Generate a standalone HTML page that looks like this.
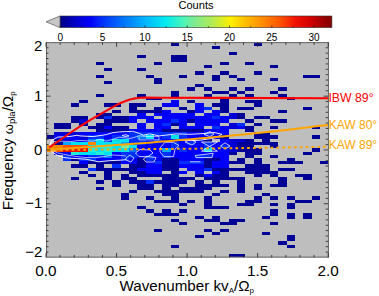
<!DOCTYPE html><html><head><meta charset="utf-8"><style>html,body{margin:0;padding:0;background:#fff;width:379px;height:296px;overflow:hidden}svg{display:block}text{font-family:"Liberation Sans",sans-serif}</style></head><body>
<svg width="379" height="296" viewBox="0 0 379 296">
<defs><linearGradient id="cb" x1="0" x2="1" y1="0" y2="0"><stop offset="0.0000" stop-color="#000082"/><stop offset="0.0547" stop-color="#0000c8"/><stop offset="0.1094" stop-color="#0000fa"/><stop offset="0.1469" stop-color="#0028ff"/><stop offset="0.2031" stop-color="#005aff"/><stop offset="0.2500" stop-color="#0082ff"/><stop offset="0.3125" stop-color="#00b4ff"/><stop offset="0.3875" stop-color="#00ebf0"/><stop offset="0.4594" stop-color="#50f5b4"/><stop offset="0.4875" stop-color="#78eb96"/><stop offset="0.5531" stop-color="#aaeb5a"/><stop offset="0.6281" stop-color="#fff000"/><stop offset="0.6813" stop-color="#ffbe00"/><stop offset="0.7438" stop-color="#ff8c00"/><stop offset="0.8125" stop-color="#ff5000"/><stop offset="0.8656" stop-color="#f01400"/><stop offset="0.9219" stop-color="#d20000"/><stop offset="0.9750" stop-color="#960000"/><stop offset="1.0000" stop-color="#820000"/></linearGradient><clipPath id="pc"><rect x="46.00" y="42.40" width="282.20" height="215.07"/></clipPath></defs>
<rect x="60.0" y="16.0" width="271.9" height="11.6" fill="url(#cb)" stroke="#333" stroke-width="0.6"/>
<path d="M60.0 16.0 L46 21.8 L60.0 27.6 Z" fill="#c8c8c8" stroke="#555" stroke-width="0.7"/>
<text x="196" y="9.3" font-size="11.1" text-anchor="middle" fill="#000">Counts</text>
<text x="60.3" y="40.8" font-size="10" text-anchor="middle" fill="#000">0</text>
<line x1="60.3" x2="60.3" y1="25.6" y2="27.6" stroke="#222" stroke-width="0.8"/>
<text x="102.6" y="40.8" font-size="10" text-anchor="middle" fill="#000">5</text>
<line x1="102.6" x2="102.6" y1="25.6" y2="27.6" stroke="#222" stroke-width="0.8"/>
<text x="144.9" y="40.8" font-size="10" text-anchor="middle" fill="#000">10</text>
<line x1="144.9" x2="144.9" y1="25.6" y2="27.6" stroke="#222" stroke-width="0.8"/>
<text x="187.2" y="40.8" font-size="10" text-anchor="middle" fill="#000">15</text>
<line x1="187.2" x2="187.2" y1="25.6" y2="27.6" stroke="#222" stroke-width="0.8"/>
<text x="229.5" y="40.8" font-size="10" text-anchor="middle" fill="#000">20</text>
<line x1="229.5" x2="229.5" y1="25.6" y2="27.6" stroke="#222" stroke-width="0.8"/>
<text x="271.8" y="40.8" font-size="10" text-anchor="middle" fill="#000">25</text>
<line x1="271.8" x2="271.8" y1="25.6" y2="27.6" stroke="#222" stroke-width="0.8"/>
<text x="314.1" y="40.8" font-size="10" text-anchor="middle" fill="#000">30</text>
<line x1="314.1" x2="314.1" y1="25.6" y2="27.6" stroke="#222" stroke-width="0.8"/>
<line x1="81.5" x2="81.5" y1="26.2" y2="27.6" stroke="#222" stroke-width="0.7"/>
<line x1="123.8" x2="123.8" y1="26.2" y2="27.6" stroke="#222" stroke-width="0.7"/>
<line x1="166.1" x2="166.1" y1="26.2" y2="27.6" stroke="#222" stroke-width="0.7"/>
<line x1="208.4" x2="208.4" y1="26.2" y2="27.6" stroke="#222" stroke-width="0.7"/>
<line x1="250.7" x2="250.7" y1="26.2" y2="27.6" stroke="#222" stroke-width="0.7"/>
<line x1="293.0" x2="293.0" y1="26.2" y2="27.6" stroke="#222" stroke-width="0.7"/>
<rect x="46.00" y="42.40" width="282.20" height="215.07" fill="#bebebe"/>
<g clip-path="url(#pc)" shape-rendering="crispEdges">
<rect x="170.50" y="42.40" width="8.30" height="3.21" fill="#000096"/>
<rect x="253.50" y="42.40" width="8.30" height="3.21" fill="#000096"/>
<rect x="212.00" y="45.61" width="8.30" height="3.21" fill="#000096"/>
<rect x="228.60" y="52.03" width="8.30" height="3.21" fill="#000096"/>
<rect x="137.30" y="55.24" width="8.30" height="3.21" fill="#000096"/>
<rect x="170.50" y="55.24" width="8.30" height="3.21" fill="#000096"/>
<rect x="178.80" y="55.24" width="8.30" height="3.21" fill="#000096"/>
<rect x="170.50" y="58.45" width="8.30" height="3.21" fill="#000096"/>
<rect x="178.80" y="58.45" width="8.30" height="3.21" fill="#000096"/>
<rect x="95.80" y="61.66" width="8.30" height="3.21" fill="#000096"/>
<rect x="153.90" y="61.66" width="8.30" height="3.21" fill="#000096"/>
<rect x="220.30" y="61.66" width="8.30" height="3.21" fill="#000096"/>
<rect x="245.20" y="61.66" width="8.30" height="3.21" fill="#000096"/>
<rect x="203.70" y="64.87" width="8.30" height="3.21" fill="#000096"/>
<rect x="270.10" y="64.87" width="8.30" height="3.21" fill="#000096"/>
<rect x="104.10" y="68.08" width="8.30" height="3.21" fill="#000096"/>
<rect x="137.30" y="68.08" width="8.30" height="3.21" fill="#000096"/>
<rect x="195.40" y="71.29" width="8.30" height="3.21" fill="#000096"/>
<rect x="220.30" y="71.29" width="8.30" height="3.21" fill="#000096"/>
<rect x="253.50" y="71.29" width="8.30" height="3.21" fill="#000096"/>
<rect x="95.80" y="74.50" width="8.30" height="3.21" fill="#000096"/>
<rect x="145.60" y="74.50" width="8.30" height="3.21" fill="#000096"/>
<rect x="178.80" y="74.50" width="8.30" height="3.21" fill="#000096"/>
<rect x="212.00" y="74.50" width="8.30" height="3.21" fill="#000096"/>
<rect x="228.60" y="74.50" width="8.30" height="3.21" fill="#000096"/>
<rect x="303.30" y="74.50" width="8.30" height="3.21" fill="#000096"/>
<rect x="311.60" y="74.50" width="8.30" height="3.21" fill="#000096"/>
<rect x="153.90" y="77.71" width="8.30" height="3.21" fill="#000096"/>
<rect x="212.00" y="77.71" width="8.30" height="3.21" fill="#000096"/>
<rect x="236.90" y="77.71" width="8.30" height="3.21" fill="#000096"/>
<rect x="270.10" y="77.71" width="8.30" height="3.21" fill="#000096"/>
<rect x="104.10" y="80.92" width="8.30" height="3.21" fill="#000096"/>
<rect x="153.90" y="80.92" width="8.30" height="3.21" fill="#000096"/>
<rect x="195.40" y="84.13" width="8.30" height="3.21" fill="#000096"/>
<rect x="187.10" y="87.34" width="8.30" height="3.21" fill="#000096"/>
<rect x="203.70" y="87.34" width="8.30" height="3.21" fill="#000096"/>
<rect x="228.60" y="87.34" width="8.30" height="3.21" fill="#000096"/>
<rect x="245.20" y="87.34" width="8.30" height="3.21" fill="#000096"/>
<rect x="278.40" y="87.34" width="8.30" height="3.21" fill="#000096"/>
<rect x="170.50" y="90.55" width="8.30" height="3.21" fill="#000096"/>
<rect x="212.00" y="90.55" width="8.30" height="3.21" fill="#000096"/>
<rect x="220.30" y="90.55" width="8.30" height="3.21" fill="#000096"/>
<rect x="236.90" y="90.55" width="8.30" height="3.21" fill="#000096"/>
<rect x="270.10" y="90.55" width="8.30" height="3.21" fill="#000096"/>
<rect x="95.80" y="93.76" width="8.30" height="3.21" fill="#000096"/>
<rect x="137.30" y="93.76" width="8.30" height="3.21" fill="#000096"/>
<rect x="170.50" y="93.76" width="8.30" height="3.21" fill="#000096"/>
<rect x="203.70" y="93.76" width="8.30" height="3.21" fill="#000096"/>
<rect x="228.60" y="93.76" width="8.30" height="3.21" fill="#000096"/>
<rect x="245.20" y="93.76" width="8.30" height="3.21" fill="#000096"/>
<rect x="278.40" y="93.76" width="8.30" height="3.21" fill="#000096"/>
<rect x="145.60" y="96.97" width="8.30" height="3.21" fill="#000096"/>
<rect x="153.90" y="96.97" width="8.30" height="3.21" fill="#000096"/>
<rect x="220.30" y="96.97" width="8.30" height="3.21" fill="#000096"/>
<rect x="286.70" y="96.97" width="8.30" height="3.21" fill="#000096"/>
<rect x="79.20" y="100.18" width="8.30" height="3.21" fill="#000096"/>
<rect x="170.50" y="100.18" width="8.30" height="3.21" fill="#0000fa"/>
<rect x="187.10" y="100.18" width="8.30" height="3.21" fill="#000096"/>
<rect x="220.30" y="100.18" width="8.30" height="3.21" fill="#000096"/>
<rect x="245.20" y="100.18" width="8.30" height="3.21" fill="#000096"/>
<rect x="253.50" y="100.18" width="8.30" height="3.21" fill="#000096"/>
<rect x="70.90" y="103.39" width="8.30" height="3.21" fill="#000096"/>
<rect x="104.10" y="103.39" width="8.30" height="3.21" fill="#000096"/>
<rect x="112.40" y="103.39" width="8.30" height="3.21" fill="#000096"/>
<rect x="129.00" y="103.39" width="8.30" height="3.21" fill="#000096"/>
<rect x="137.30" y="103.39" width="8.30" height="3.21" fill="#000096"/>
<rect x="162.20" y="103.39" width="8.30" height="3.21" fill="#0000fa"/>
<rect x="170.50" y="103.39" width="8.30" height="3.21" fill="#0000fa"/>
<rect x="195.40" y="103.39" width="8.30" height="3.21" fill="#0000fa"/>
<rect x="212.00" y="103.39" width="8.30" height="3.21" fill="#000096"/>
<rect x="220.30" y="103.39" width="8.30" height="3.21" fill="#000096"/>
<rect x="253.50" y="103.39" width="8.30" height="3.21" fill="#000096"/>
<rect x="129.00" y="106.60" width="8.30" height="3.21" fill="#000096"/>
<rect x="153.90" y="106.60" width="8.30" height="3.21" fill="#000096"/>
<rect x="178.80" y="106.60" width="8.30" height="3.21" fill="#000096"/>
<rect x="195.40" y="106.60" width="8.30" height="3.21" fill="#0000fa"/>
<rect x="203.70" y="106.60" width="8.30" height="3.21" fill="#0030ff"/>
<rect x="220.30" y="106.60" width="8.30" height="3.21" fill="#000096"/>
<rect x="236.90" y="106.60" width="8.30" height="3.21" fill="#000096"/>
<rect x="245.20" y="106.60" width="8.30" height="3.21" fill="#000096"/>
<rect x="303.30" y="106.60" width="8.30" height="3.21" fill="#000096"/>
<rect x="112.40" y="109.81" width="8.30" height="3.21" fill="#000096"/>
<rect x="129.00" y="109.81" width="8.30" height="3.21" fill="#000096"/>
<rect x="137.30" y="109.81" width="8.30" height="3.21" fill="#000096"/>
<rect x="145.60" y="109.81" width="8.30" height="3.21" fill="#000096"/>
<rect x="153.90" y="109.81" width="8.30" height="3.21" fill="#000096"/>
<rect x="162.20" y="109.81" width="8.30" height="3.21" fill="#0000fa"/>
<rect x="187.10" y="109.81" width="8.30" height="3.21" fill="#000096"/>
<rect x="195.40" y="109.81" width="8.30" height="3.21" fill="#0000fa"/>
<rect x="212.00" y="109.81" width="8.30" height="3.21" fill="#0000fa"/>
<rect x="220.30" y="109.81" width="8.30" height="3.21" fill="#000096"/>
<rect x="278.40" y="109.81" width="8.30" height="3.21" fill="#000096"/>
<rect x="95.80" y="113.02" width="8.30" height="3.21" fill="#000096"/>
<rect x="104.10" y="113.02" width="8.30" height="3.21" fill="#000096"/>
<rect x="137.30" y="113.02" width="8.30" height="3.21" fill="#0000fa"/>
<rect x="153.90" y="113.02" width="8.30" height="3.21" fill="#0000fa"/>
<rect x="162.20" y="113.02" width="8.30" height="3.21" fill="#0000fa"/>
<rect x="170.50" y="113.02" width="8.30" height="3.21" fill="#0000fa"/>
<rect x="178.80" y="113.02" width="8.30" height="3.21" fill="#0000fa"/>
<rect x="187.10" y="113.02" width="8.30" height="3.21" fill="#0000fa"/>
<rect x="203.70" y="113.02" width="8.30" height="3.21" fill="#0000fa"/>
<rect x="212.00" y="113.02" width="8.30" height="3.21" fill="#0000fa"/>
<rect x="228.60" y="113.02" width="8.30" height="3.21" fill="#0000d5"/>
<rect x="236.90" y="113.02" width="8.30" height="3.21" fill="#000096"/>
<rect x="70.90" y="116.23" width="8.30" height="3.21" fill="#000096"/>
<rect x="79.20" y="116.23" width="8.30" height="3.21" fill="#000096"/>
<rect x="95.80" y="116.23" width="8.30" height="3.21" fill="#000096"/>
<rect x="104.10" y="116.23" width="8.30" height="3.21" fill="#0030ff"/>
<rect x="112.40" y="116.23" width="8.30" height="3.21" fill="#000096"/>
<rect x="120.70" y="116.23" width="8.30" height="3.21" fill="#000096"/>
<rect x="129.00" y="116.23" width="8.30" height="3.21" fill="#0000fa"/>
<rect x="137.30" y="116.23" width="8.30" height="3.21" fill="#0000fa"/>
<rect x="145.60" y="116.23" width="8.30" height="3.21" fill="#0000fa"/>
<rect x="162.20" y="116.23" width="8.30" height="3.21" fill="#0000fa"/>
<rect x="170.50" y="116.23" width="8.30" height="3.21" fill="#0000fa"/>
<rect x="178.80" y="116.23" width="8.30" height="3.21" fill="#0000fa"/>
<rect x="187.10" y="116.23" width="8.30" height="3.21" fill="#0000fa"/>
<rect x="195.40" y="116.23" width="8.30" height="3.21" fill="#0000fa"/>
<rect x="203.70" y="116.23" width="8.30" height="3.21" fill="#0000fa"/>
<rect x="212.00" y="116.23" width="8.30" height="3.21" fill="#0030ff"/>
<rect x="220.30" y="116.23" width="8.30" height="3.21" fill="#0000fa"/>
<rect x="228.60" y="116.23" width="8.30" height="3.21" fill="#0000d5"/>
<rect x="236.90" y="116.23" width="8.30" height="3.21" fill="#000096"/>
<rect x="253.50" y="116.23" width="8.30" height="3.21" fill="#000096"/>
<rect x="261.80" y="116.23" width="8.30" height="3.21" fill="#000096"/>
<rect x="70.90" y="119.44" width="8.30" height="3.21" fill="#000096"/>
<rect x="79.20" y="119.44" width="8.30" height="3.21" fill="#0000d5"/>
<rect x="104.10" y="119.44" width="8.30" height="3.21" fill="#000096"/>
<rect x="112.40" y="119.44" width="8.30" height="3.21" fill="#000096"/>
<rect x="120.70" y="119.44" width="8.30" height="3.21" fill="#000096"/>
<rect x="129.00" y="119.44" width="8.30" height="3.21" fill="#0000fa"/>
<rect x="145.60" y="119.44" width="8.30" height="3.21" fill="#0000fa"/>
<rect x="153.90" y="119.44" width="8.30" height="3.21" fill="#0000fa"/>
<rect x="162.20" y="119.44" width="8.30" height="3.21" fill="#0000fa"/>
<rect x="170.50" y="119.44" width="8.30" height="3.21" fill="#0030ff"/>
<rect x="178.80" y="119.44" width="8.30" height="3.21" fill="#0000fa"/>
<rect x="187.10" y="119.44" width="8.30" height="3.21" fill="#000096"/>
<rect x="195.40" y="119.44" width="8.30" height="3.21" fill="#0000fa"/>
<rect x="203.70" y="119.44" width="8.30" height="3.21" fill="#0000fa"/>
<rect x="212.00" y="119.44" width="8.30" height="3.21" fill="#0000fa"/>
<rect x="220.30" y="119.44" width="8.30" height="3.21" fill="#0000fa"/>
<rect x="245.20" y="119.44" width="8.30" height="3.21" fill="#000096"/>
<rect x="270.10" y="119.44" width="8.30" height="3.21" fill="#000096"/>
<rect x="278.40" y="119.44" width="8.30" height="3.21" fill="#000096"/>
<rect x="54.30" y="122.65" width="8.30" height="3.21" fill="#000096"/>
<rect x="62.60" y="122.65" width="8.30" height="3.21" fill="#000096"/>
<rect x="79.20" y="122.65" width="8.30" height="3.21" fill="#000096"/>
<rect x="95.80" y="122.65" width="8.30" height="3.21" fill="#000096"/>
<rect x="104.10" y="122.65" width="8.30" height="3.21" fill="#000096"/>
<rect x="137.30" y="122.65" width="8.30" height="3.21" fill="#0000fa"/>
<rect x="153.90" y="122.65" width="8.30" height="3.21" fill="#0000fa"/>
<rect x="162.20" y="122.65" width="8.30" height="3.21" fill="#0030ff"/>
<rect x="170.50" y="122.65" width="8.30" height="3.21" fill="#000096"/>
<rect x="178.80" y="122.65" width="8.30" height="3.21" fill="#0000fa"/>
<rect x="195.40" y="122.65" width="8.30" height="3.21" fill="#0000fa"/>
<rect x="203.70" y="122.65" width="8.30" height="3.21" fill="#0000fa"/>
<rect x="212.00" y="122.65" width="8.30" height="3.21" fill="#0000fa"/>
<rect x="228.60" y="122.65" width="8.30" height="3.21" fill="#0000d5"/>
<rect x="236.90" y="122.65" width="8.30" height="3.21" fill="#0030ff"/>
<rect x="253.50" y="122.65" width="8.30" height="3.21" fill="#000096"/>
<rect x="54.30" y="125.86" width="8.30" height="3.21" fill="#000096"/>
<rect x="62.60" y="125.86" width="8.30" height="3.21" fill="#000096"/>
<rect x="87.50" y="125.86" width="8.30" height="3.21" fill="#000096"/>
<rect x="95.80" y="125.86" width="8.30" height="3.21" fill="#000096"/>
<rect x="104.10" y="125.86" width="8.30" height="3.21" fill="#0000fa"/>
<rect x="112.40" y="125.86" width="8.30" height="3.21" fill="#000096"/>
<rect x="120.70" y="125.86" width="8.30" height="3.21" fill="#000096"/>
<rect x="137.30" y="125.86" width="8.30" height="3.21" fill="#0000fa"/>
<rect x="153.90" y="125.86" width="8.30" height="3.21" fill="#0000fa"/>
<rect x="162.20" y="125.86" width="8.30" height="3.21" fill="#0000fa"/>
<rect x="178.80" y="125.86" width="8.30" height="3.21" fill="#0000fa"/>
<rect x="187.10" y="125.86" width="8.30" height="3.21" fill="#0000fa"/>
<rect x="195.40" y="125.86" width="8.30" height="3.21" fill="#0000fa"/>
<rect x="212.00" y="125.86" width="8.30" height="3.21" fill="#0030ff"/>
<rect x="220.30" y="125.86" width="8.30" height="3.21" fill="#0000fa"/>
<rect x="228.60" y="125.86" width="8.30" height="3.21" fill="#0000d5"/>
<rect x="236.90" y="125.86" width="8.30" height="3.21" fill="#0000fa"/>
<rect x="245.20" y="125.86" width="8.30" height="3.21" fill="#000096"/>
<rect x="270.10" y="125.86" width="8.30" height="3.21" fill="#000096"/>
<rect x="311.60" y="125.86" width="8.30" height="3.21" fill="#000096"/>
<rect x="95.80" y="129.07" width="8.30" height="3.21" fill="#000096"/>
<rect x="104.10" y="129.07" width="8.30" height="3.21" fill="#000096"/>
<rect x="112.40" y="129.07" width="8.30" height="3.21" fill="#000096"/>
<rect x="120.70" y="129.07" width="8.30" height="3.21" fill="#000096"/>
<rect x="129.00" y="129.07" width="8.30" height="3.21" fill="#0000fa"/>
<rect x="137.30" y="129.07" width="8.30" height="3.21" fill="#0000fa"/>
<rect x="145.60" y="129.07" width="8.30" height="3.21" fill="#0000fa"/>
<rect x="153.90" y="129.07" width="8.30" height="3.21" fill="#0000fa"/>
<rect x="162.20" y="129.07" width="8.30" height="3.21" fill="#000096"/>
<rect x="170.50" y="129.07" width="8.30" height="3.21" fill="#000096"/>
<rect x="178.80" y="129.07" width="8.30" height="3.21" fill="#000096"/>
<rect x="187.10" y="129.07" width="8.30" height="3.21" fill="#000096"/>
<rect x="195.40" y="129.07" width="8.30" height="3.21" fill="#000096"/>
<rect x="203.70" y="129.07" width="8.30" height="3.21" fill="#0000fa"/>
<rect x="212.00" y="129.07" width="8.30" height="3.21" fill="#0000fa"/>
<rect x="220.30" y="129.07" width="8.30" height="3.21" fill="#0000fa"/>
<rect x="245.20" y="129.07" width="8.30" height="3.21" fill="#000096"/>
<rect x="54.30" y="132.28" width="8.30" height="3.21" fill="#0000d5"/>
<rect x="62.60" y="132.28" width="8.30" height="3.21" fill="#0000d5"/>
<rect x="70.90" y="132.28" width="8.30" height="3.21" fill="#0000d5"/>
<rect x="79.20" y="132.28" width="8.30" height="3.21" fill="#0000fa"/>
<rect x="87.50" y="132.28" width="8.30" height="3.21" fill="#0000fa"/>
<rect x="95.80" y="132.28" width="8.30" height="3.21" fill="#0000fa"/>
<rect x="104.10" y="132.28" width="8.30" height="3.21" fill="#0000fa"/>
<rect x="112.40" y="132.28" width="8.30" height="3.21" fill="#0000fa"/>
<rect x="120.70" y="132.28" width="8.30" height="3.21" fill="#0000fa"/>
<rect x="129.00" y="132.28" width="8.30" height="3.21" fill="#0030ff"/>
<rect x="137.30" y="132.28" width="8.30" height="3.21" fill="#0030ff"/>
<rect x="145.60" y="132.28" width="8.30" height="3.21" fill="#0030ff"/>
<rect x="153.90" y="132.28" width="8.30" height="3.21" fill="#0030ff"/>
<rect x="162.20" y="132.28" width="8.30" height="3.21" fill="#0030ff"/>
<rect x="170.50" y="132.28" width="8.30" height="3.21" fill="#0030ff"/>
<rect x="178.80" y="132.28" width="8.30" height="3.21" fill="#0030ff"/>
<rect x="187.10" y="132.28" width="8.30" height="3.21" fill="#0000fa"/>
<rect x="195.40" y="132.28" width="8.30" height="3.21" fill="#0000fa"/>
<rect x="203.70" y="132.28" width="8.30" height="3.21" fill="#0030ff"/>
<rect x="212.00" y="132.28" width="8.30" height="3.21" fill="#0000fa"/>
<rect x="220.30" y="132.28" width="8.30" height="3.21" fill="#0000fa"/>
<rect x="253.50" y="132.28" width="8.30" height="3.21" fill="#000096"/>
<rect x="261.80" y="132.28" width="8.30" height="3.21" fill="#000096"/>
<rect x="46.00" y="135.49" width="8.30" height="3.21" fill="#000096"/>
<rect x="54.30" y="135.49" width="8.30" height="3.21" fill="#0000fa"/>
<rect x="62.60" y="135.49" width="8.30" height="3.21" fill="#0000fa"/>
<rect x="70.90" y="135.49" width="8.30" height="3.21" fill="#0000fa"/>
<rect x="79.20" y="135.49" width="8.30" height="3.21" fill="#0000d5"/>
<rect x="87.50" y="135.49" width="8.30" height="3.21" fill="#0030ff"/>
<rect x="95.80" y="135.49" width="8.30" height="3.21" fill="#0030ff"/>
<rect x="104.10" y="135.49" width="8.30" height="3.21" fill="#0000fa"/>
<rect x="112.40" y="135.49" width="8.30" height="3.21" fill="#0030ff"/>
<rect x="120.70" y="135.49" width="8.30" height="3.21" fill="#0030ff"/>
<rect x="129.00" y="135.49" width="8.30" height="3.21" fill="#0030ff"/>
<rect x="137.30" y="135.49" width="8.30" height="3.21" fill="#0075ff"/>
<rect x="145.60" y="135.49" width="8.30" height="3.21" fill="#00e2f2"/>
<rect x="153.90" y="135.49" width="8.30" height="3.21" fill="#0000fa"/>
<rect x="162.20" y="135.49" width="8.30" height="3.21" fill="#0030ff"/>
<rect x="170.50" y="135.49" width="8.30" height="3.21" fill="#00e2f2"/>
<rect x="178.80" y="135.49" width="8.30" height="3.21" fill="#0030ff"/>
<rect x="187.10" y="135.49" width="8.30" height="3.21" fill="#0000fa"/>
<rect x="195.40" y="135.49" width="8.30" height="3.21" fill="#0000fa"/>
<rect x="203.70" y="135.49" width="8.30" height="3.21" fill="#0000fa"/>
<rect x="212.00" y="135.49" width="8.30" height="3.21" fill="#0000fa"/>
<rect x="220.30" y="135.49" width="8.30" height="3.21" fill="#000096"/>
<rect x="253.50" y="135.49" width="8.30" height="3.21" fill="#000096"/>
<rect x="261.80" y="135.49" width="8.30" height="3.21" fill="#000096"/>
<rect x="270.10" y="135.49" width="8.30" height="3.21" fill="#000096"/>
<rect x="311.60" y="135.49" width="8.30" height="3.21" fill="#000096"/>
<rect x="54.30" y="138.70" width="8.30" height="3.21" fill="#000096"/>
<rect x="62.60" y="138.70" width="8.30" height="3.21" fill="#0000d5"/>
<rect x="70.90" y="138.70" width="8.30" height="3.21" fill="#0000fa"/>
<rect x="79.20" y="138.70" width="8.30" height="3.21" fill="#0000fa"/>
<rect x="87.50" y="138.70" width="8.30" height="3.21" fill="#0075ff"/>
<rect x="95.80" y="138.70" width="8.30" height="3.21" fill="#00e2f2"/>
<rect x="104.10" y="138.70" width="8.30" height="3.21" fill="#0030ff"/>
<rect x="112.40" y="138.70" width="8.30" height="3.21" fill="#00e2f2"/>
<rect x="120.70" y="138.70" width="8.30" height="3.21" fill="#00e2f2"/>
<rect x="129.00" y="138.70" width="8.30" height="3.21" fill="#0030ff"/>
<rect x="137.30" y="138.70" width="8.30" height="3.21" fill="#0030ff"/>
<rect x="145.60" y="138.70" width="8.30" height="3.21" fill="#0000fa"/>
<rect x="153.90" y="138.70" width="8.30" height="3.21" fill="#0030ff"/>
<rect x="162.20" y="138.70" width="8.30" height="3.21" fill="#0000fa"/>
<rect x="170.50" y="138.70" width="8.30" height="3.21" fill="#0000fa"/>
<rect x="178.80" y="138.70" width="8.30" height="3.21" fill="#0000fa"/>
<rect x="187.10" y="138.70" width="8.30" height="3.21" fill="#0000fa"/>
<rect x="195.40" y="138.70" width="8.30" height="3.21" fill="#0000fa"/>
<rect x="203.70" y="138.70" width="8.30" height="3.21" fill="#000096"/>
<rect x="220.30" y="138.70" width="8.30" height="3.21" fill="#0000fa"/>
<rect x="228.60" y="138.70" width="8.30" height="3.21" fill="#0000d5"/>
<rect x="236.90" y="138.70" width="8.30" height="3.21" fill="#0000d5"/>
<rect x="245.20" y="138.70" width="8.30" height="3.21" fill="#000096"/>
<rect x="261.80" y="138.70" width="8.30" height="3.21" fill="#000096"/>
<rect x="54.30" y="141.91" width="8.30" height="3.21" fill="#000096"/>
<rect x="62.60" y="141.91" width="8.30" height="3.21" fill="#00a8ff"/>
<rect x="70.90" y="141.91" width="8.30" height="3.21" fill="#00e2f2"/>
<rect x="79.20" y="141.91" width="8.30" height="3.21" fill="#00e2f2"/>
<rect x="87.50" y="141.91" width="8.30" height="3.21" fill="#ff8700"/>
<rect x="95.80" y="141.91" width="8.30" height="3.21" fill="#00e2f2"/>
<rect x="104.10" y="141.91" width="8.30" height="3.21" fill="#00e2f2"/>
<rect x="112.40" y="141.91" width="8.30" height="3.21" fill="#00e2f2"/>
<rect x="120.70" y="141.91" width="8.30" height="3.21" fill="#00a8ff"/>
<rect x="129.00" y="141.91" width="8.30" height="3.21" fill="#0030ff"/>
<rect x="137.30" y="141.91" width="8.30" height="3.21" fill="#0030ff"/>
<rect x="145.60" y="141.91" width="8.30" height="3.21" fill="#0000fa"/>
<rect x="153.90" y="141.91" width="8.30" height="3.21" fill="#0000fa"/>
<rect x="162.20" y="141.91" width="8.30" height="3.21" fill="#0000fa"/>
<rect x="170.50" y="141.91" width="8.30" height="3.21" fill="#0030ff"/>
<rect x="178.80" y="141.91" width="8.30" height="3.21" fill="#0000fa"/>
<rect x="187.10" y="141.91" width="8.30" height="3.21" fill="#0030ff"/>
<rect x="195.40" y="141.91" width="8.30" height="3.21" fill="#0000fa"/>
<rect x="203.70" y="141.91" width="8.30" height="3.21" fill="#0030ff"/>
<rect x="212.00" y="141.91" width="8.30" height="3.21" fill="#0000fa"/>
<rect x="220.30" y="141.91" width="8.30" height="3.21" fill="#0000fa"/>
<rect x="228.60" y="141.91" width="8.30" height="3.21" fill="#0000d5"/>
<rect x="236.90" y="141.91" width="8.30" height="3.21" fill="#000096"/>
<rect x="245.20" y="141.91" width="8.30" height="3.21" fill="#000096"/>
<rect x="253.50" y="141.91" width="8.30" height="3.21" fill="#000096"/>
<rect x="261.80" y="141.91" width="8.30" height="3.21" fill="#000096"/>
<rect x="270.10" y="141.91" width="8.30" height="3.21" fill="#000096"/>
<rect x="46.00" y="145.12" width="8.30" height="3.21" fill="#ff8700"/>
<rect x="54.30" y="145.12" width="8.30" height="3.21" fill="#ff8700"/>
<rect x="62.60" y="145.12" width="8.30" height="3.21" fill="#ff5000"/>
<rect x="70.90" y="145.12" width="8.30" height="3.21" fill="#ff5000"/>
<rect x="79.20" y="145.12" width="8.30" height="3.21" fill="#ff5000"/>
<rect x="87.50" y="145.12" width="8.30" height="3.21" fill="#00e2f2"/>
<rect x="95.80" y="145.12" width="8.30" height="3.21" fill="#26f0d3"/>
<rect x="104.10" y="145.12" width="8.30" height="3.21" fill="#26f0d3"/>
<rect x="112.40" y="145.12" width="8.30" height="3.21" fill="#00e2f2"/>
<rect x="120.70" y="145.12" width="8.30" height="3.21" fill="#82eb8b"/>
<rect x="129.00" y="145.12" width="8.30" height="3.21" fill="#00e2f2"/>
<rect x="137.30" y="145.12" width="8.30" height="3.21" fill="#0000fa"/>
<rect x="145.60" y="145.12" width="8.30" height="3.21" fill="#0000fa"/>
<rect x="153.90" y="145.12" width="8.30" height="3.21" fill="#0000fa"/>
<rect x="162.20" y="145.12" width="8.30" height="3.21" fill="#0000fa"/>
<rect x="170.50" y="145.12" width="8.30" height="3.21" fill="#0030ff"/>
<rect x="178.80" y="145.12" width="8.30" height="3.21" fill="#0000fa"/>
<rect x="187.10" y="145.12" width="8.30" height="3.21" fill="#0000fa"/>
<rect x="195.40" y="145.12" width="8.30" height="3.21" fill="#0000fa"/>
<rect x="203.70" y="145.12" width="8.30" height="3.21" fill="#0030ff"/>
<rect x="212.00" y="145.12" width="8.30" height="3.21" fill="#0000fa"/>
<rect x="220.30" y="145.12" width="8.30" height="3.21" fill="#0030ff"/>
<rect x="228.60" y="145.12" width="8.30" height="3.21" fill="#0000d5"/>
<rect x="236.90" y="145.12" width="8.30" height="3.21" fill="#000096"/>
<rect x="245.20" y="145.12" width="8.30" height="3.21" fill="#000096"/>
<rect x="270.10" y="145.12" width="8.30" height="3.21" fill="#000096"/>
<rect x="46.00" y="148.33" width="8.30" height="3.21" fill="#ff8700"/>
<rect x="54.30" y="148.33" width="8.30" height="3.21" fill="#ff5000"/>
<rect x="62.60" y="148.33" width="8.30" height="3.21" fill="#eb1100"/>
<rect x="70.90" y="148.33" width="8.30" height="3.21" fill="#eb1100"/>
<rect x="79.20" y="148.33" width="8.30" height="3.21" fill="#eb1100"/>
<rect x="87.50" y="148.33" width="8.30" height="3.21" fill="#26f0d3"/>
<rect x="95.80" y="148.33" width="8.30" height="3.21" fill="#00e2f2"/>
<rect x="104.10" y="148.33" width="8.30" height="3.21" fill="#26f0d3"/>
<rect x="112.40" y="148.33" width="8.30" height="3.21" fill="#00e2f2"/>
<rect x="120.70" y="148.33" width="8.30" height="3.21" fill="#00e2f2"/>
<rect x="129.00" y="148.33" width="8.30" height="3.21" fill="#0075ff"/>
<rect x="137.30" y="148.33" width="8.30" height="3.21" fill="#0000fa"/>
<rect x="145.60" y="148.33" width="8.30" height="3.21" fill="#0000fa"/>
<rect x="153.90" y="148.33" width="8.30" height="3.21" fill="#0000fa"/>
<rect x="162.20" y="148.33" width="8.30" height="3.21" fill="#00a8ff"/>
<rect x="170.50" y="148.33" width="8.30" height="3.21" fill="#0000fa"/>
<rect x="178.80" y="148.33" width="8.30" height="3.21" fill="#0030ff"/>
<rect x="187.10" y="148.33" width="8.30" height="3.21" fill="#0000fa"/>
<rect x="195.40" y="148.33" width="8.30" height="3.21" fill="#0000fa"/>
<rect x="203.70" y="148.33" width="8.30" height="3.21" fill="#00e2f2"/>
<rect x="212.00" y="148.33" width="8.30" height="3.21" fill="#0000fa"/>
<rect x="220.30" y="148.33" width="8.30" height="3.21" fill="#0000fa"/>
<rect x="228.60" y="148.33" width="8.30" height="3.21" fill="#0000d5"/>
<rect x="236.90" y="148.33" width="8.30" height="3.21" fill="#000096"/>
<rect x="245.20" y="148.33" width="8.30" height="3.21" fill="#000096"/>
<rect x="253.50" y="148.33" width="8.30" height="3.21" fill="#000096"/>
<rect x="311.60" y="148.33" width="8.30" height="3.21" fill="#000096"/>
<rect x="54.30" y="151.54" width="8.30" height="3.21" fill="#0000d5"/>
<rect x="62.60" y="151.54" width="8.30" height="3.21" fill="#0000fa"/>
<rect x="70.90" y="151.54" width="8.30" height="3.21" fill="#26f0d3"/>
<rect x="79.20" y="151.54" width="8.30" height="3.21" fill="#00e2f2"/>
<rect x="87.50" y="151.54" width="8.30" height="3.21" fill="#00e2f2"/>
<rect x="95.80" y="151.54" width="8.30" height="3.21" fill="#26f0d3"/>
<rect x="104.10" y="151.54" width="8.30" height="3.21" fill="#00e2f2"/>
<rect x="112.40" y="151.54" width="8.30" height="3.21" fill="#0000fa"/>
<rect x="120.70" y="151.54" width="8.30" height="3.21" fill="#0030ff"/>
<rect x="129.00" y="151.54" width="8.30" height="3.21" fill="#0030ff"/>
<rect x="137.30" y="151.54" width="8.30" height="3.21" fill="#0000fa"/>
<rect x="145.60" y="151.54" width="8.30" height="3.21" fill="#0000fa"/>
<rect x="153.90" y="151.54" width="8.30" height="3.21" fill="#0000fa"/>
<rect x="162.20" y="151.54" width="8.30" height="3.21" fill="#0030ff"/>
<rect x="170.50" y="151.54" width="8.30" height="3.21" fill="#0000fa"/>
<rect x="178.80" y="151.54" width="8.30" height="3.21" fill="#0000fa"/>
<rect x="187.10" y="151.54" width="8.30" height="3.21" fill="#0000fa"/>
<rect x="195.40" y="151.54" width="8.30" height="3.21" fill="#0000fa"/>
<rect x="203.70" y="151.54" width="8.30" height="3.21" fill="#0000fa"/>
<rect x="212.00" y="151.54" width="8.30" height="3.21" fill="#0000fa"/>
<rect x="220.30" y="151.54" width="8.30" height="3.21" fill="#0000fa"/>
<rect x="228.60" y="151.54" width="8.30" height="3.21" fill="#000096"/>
<rect x="245.20" y="151.54" width="8.30" height="3.21" fill="#000096"/>
<rect x="253.50" y="151.54" width="8.30" height="3.21" fill="#000096"/>
<rect x="303.30" y="151.54" width="8.30" height="3.21" fill="#000096"/>
<rect x="62.60" y="154.75" width="8.30" height="3.21" fill="#0030ff"/>
<rect x="70.90" y="154.75" width="8.30" height="3.21" fill="#0000fa"/>
<rect x="79.20" y="154.75" width="8.30" height="3.21" fill="#0000fa"/>
<rect x="87.50" y="154.75" width="8.30" height="3.21" fill="#0030ff"/>
<rect x="95.80" y="154.75" width="8.30" height="3.21" fill="#0030ff"/>
<rect x="104.10" y="154.75" width="8.30" height="3.21" fill="#0075ff"/>
<rect x="112.40" y="154.75" width="8.30" height="3.21" fill="#0000fa"/>
<rect x="120.70" y="154.75" width="8.30" height="3.21" fill="#0030ff"/>
<rect x="129.00" y="154.75" width="8.30" height="3.21" fill="#0030ff"/>
<rect x="137.30" y="154.75" width="8.30" height="3.21" fill="#0000fa"/>
<rect x="145.60" y="154.75" width="8.30" height="3.21" fill="#0030ff"/>
<rect x="153.90" y="154.75" width="8.30" height="3.21" fill="#0000fa"/>
<rect x="162.20" y="154.75" width="8.30" height="3.21" fill="#0030ff"/>
<rect x="170.50" y="154.75" width="8.30" height="3.21" fill="#0000fa"/>
<rect x="178.80" y="154.75" width="8.30" height="3.21" fill="#0000fa"/>
<rect x="187.10" y="154.75" width="8.30" height="3.21" fill="#0000fa"/>
<rect x="195.40" y="154.75" width="8.30" height="3.21" fill="#0030ff"/>
<rect x="203.70" y="154.75" width="8.30" height="3.21" fill="#0030ff"/>
<rect x="212.00" y="154.75" width="8.30" height="3.21" fill="#0000fa"/>
<rect x="220.30" y="154.75" width="8.30" height="3.21" fill="#0000fa"/>
<rect x="245.20" y="154.75" width="8.30" height="3.21" fill="#000096"/>
<rect x="270.10" y="154.75" width="8.30" height="3.21" fill="#000096"/>
<rect x="62.60" y="157.96" width="8.30" height="3.21" fill="#0030ff"/>
<rect x="70.90" y="157.96" width="8.30" height="3.21" fill="#000096"/>
<rect x="79.20" y="157.96" width="8.30" height="3.21" fill="#0030ff"/>
<rect x="87.50" y="157.96" width="8.30" height="3.21" fill="#0030ff"/>
<rect x="95.80" y="157.96" width="8.30" height="3.21" fill="#0000fa"/>
<rect x="104.10" y="157.96" width="8.30" height="3.21" fill="#0000fa"/>
<rect x="112.40" y="157.96" width="8.30" height="3.21" fill="#0000fa"/>
<rect x="120.70" y="157.96" width="8.30" height="3.21" fill="#0030ff"/>
<rect x="129.00" y="157.96" width="8.30" height="3.21" fill="#0000fa"/>
<rect x="137.30" y="157.96" width="8.30" height="3.21" fill="#000096"/>
<rect x="145.60" y="157.96" width="8.30" height="3.21" fill="#0030ff"/>
<rect x="153.90" y="157.96" width="8.30" height="3.21" fill="#0000fa"/>
<rect x="162.20" y="157.96" width="8.30" height="3.21" fill="#000096"/>
<rect x="170.50" y="157.96" width="8.30" height="3.21" fill="#000096"/>
<rect x="178.80" y="157.96" width="8.30" height="3.21" fill="#0000fa"/>
<rect x="187.10" y="157.96" width="8.30" height="3.21" fill="#0000fa"/>
<rect x="195.40" y="157.96" width="8.30" height="3.21" fill="#0000fa"/>
<rect x="203.70" y="157.96" width="8.30" height="3.21" fill="#000096"/>
<rect x="212.00" y="157.96" width="8.30" height="3.21" fill="#000096"/>
<rect x="220.30" y="157.96" width="8.30" height="3.21" fill="#0000fa"/>
<rect x="236.90" y="157.96" width="8.30" height="3.21" fill="#000096"/>
<rect x="253.50" y="157.96" width="8.30" height="3.21" fill="#000096"/>
<rect x="286.70" y="157.96" width="8.30" height="3.21" fill="#000096"/>
<rect x="79.20" y="161.17" width="8.30" height="3.21" fill="#0000fa"/>
<rect x="87.50" y="161.17" width="8.30" height="3.21" fill="#000096"/>
<rect x="95.80" y="161.17" width="8.30" height="3.21" fill="#000096"/>
<rect x="104.10" y="161.17" width="8.30" height="3.21" fill="#000096"/>
<rect x="112.40" y="161.17" width="8.30" height="3.21" fill="#000096"/>
<rect x="120.70" y="161.17" width="8.30" height="3.21" fill="#0000fa"/>
<rect x="129.00" y="161.17" width="8.30" height="3.21" fill="#0000fa"/>
<rect x="137.30" y="161.17" width="8.30" height="3.21" fill="#000096"/>
<rect x="145.60" y="161.17" width="8.30" height="3.21" fill="#0000fa"/>
<rect x="153.90" y="161.17" width="8.30" height="3.21" fill="#0030ff"/>
<rect x="162.20" y="161.17" width="8.30" height="3.21" fill="#000096"/>
<rect x="170.50" y="161.17" width="8.30" height="3.21" fill="#000096"/>
<rect x="178.80" y="161.17" width="8.30" height="3.21" fill="#0030ff"/>
<rect x="187.10" y="161.17" width="8.30" height="3.21" fill="#0030ff"/>
<rect x="195.40" y="161.17" width="8.30" height="3.21" fill="#0030ff"/>
<rect x="203.70" y="161.17" width="8.30" height="3.21" fill="#000096"/>
<rect x="212.00" y="161.17" width="8.30" height="3.21" fill="#0000fa"/>
<rect x="220.30" y="161.17" width="8.30" height="3.21" fill="#0000fa"/>
<rect x="228.60" y="161.17" width="8.30" height="3.21" fill="#000096"/>
<rect x="236.90" y="161.17" width="8.30" height="3.21" fill="#000096"/>
<rect x="253.50" y="161.17" width="8.30" height="3.21" fill="#000096"/>
<rect x="278.40" y="161.17" width="8.30" height="3.21" fill="#000096"/>
<rect x="286.70" y="161.17" width="8.30" height="3.21" fill="#000096"/>
<rect x="295.00" y="161.17" width="8.30" height="3.21" fill="#000096"/>
<rect x="319.90" y="161.17" width="8.30" height="3.21" fill="#000096"/>
<rect x="70.90" y="164.38" width="8.30" height="3.21" fill="#000096"/>
<rect x="79.20" y="164.38" width="8.30" height="3.21" fill="#000096"/>
<rect x="95.80" y="164.38" width="8.30" height="3.21" fill="#000096"/>
<rect x="112.40" y="164.38" width="8.30" height="3.21" fill="#0030ff"/>
<rect x="129.00" y="164.38" width="8.30" height="3.21" fill="#000096"/>
<rect x="137.30" y="164.38" width="8.30" height="3.21" fill="#000096"/>
<rect x="145.60" y="164.38" width="8.30" height="3.21" fill="#0000fa"/>
<rect x="153.90" y="164.38" width="8.30" height="3.21" fill="#0000fa"/>
<rect x="162.20" y="164.38" width="8.30" height="3.21" fill="#000096"/>
<rect x="170.50" y="164.38" width="8.30" height="3.21" fill="#000096"/>
<rect x="178.80" y="164.38" width="8.30" height="3.21" fill="#0000fa"/>
<rect x="187.10" y="164.38" width="8.30" height="3.21" fill="#0000fa"/>
<rect x="195.40" y="164.38" width="8.30" height="3.21" fill="#0000fa"/>
<rect x="203.70" y="164.38" width="8.30" height="3.21" fill="#000096"/>
<rect x="212.00" y="164.38" width="8.30" height="3.21" fill="#0000fa"/>
<rect x="220.30" y="164.38" width="8.30" height="3.21" fill="#0000fa"/>
<rect x="245.20" y="164.38" width="8.30" height="3.21" fill="#000096"/>
<rect x="253.50" y="164.38" width="8.30" height="3.21" fill="#000096"/>
<rect x="261.80" y="164.38" width="8.30" height="3.21" fill="#000096"/>
<rect x="87.50" y="167.59" width="8.30" height="3.21" fill="#0030ff"/>
<rect x="95.80" y="167.59" width="8.30" height="3.21" fill="#000096"/>
<rect x="104.10" y="167.59" width="8.30" height="3.21" fill="#000096"/>
<rect x="112.40" y="167.59" width="8.30" height="3.21" fill="#000096"/>
<rect x="120.70" y="167.59" width="8.30" height="3.21" fill="#000096"/>
<rect x="129.00" y="167.59" width="8.30" height="3.21" fill="#000096"/>
<rect x="137.30" y="167.59" width="8.30" height="3.21" fill="#0000fa"/>
<rect x="145.60" y="167.59" width="8.30" height="3.21" fill="#0000fa"/>
<rect x="153.90" y="167.59" width="8.30" height="3.21" fill="#0000fa"/>
<rect x="162.20" y="167.59" width="8.30" height="3.21" fill="#000096"/>
<rect x="170.50" y="167.59" width="8.30" height="3.21" fill="#000096"/>
<rect x="187.10" y="167.59" width="8.30" height="3.21" fill="#0000fa"/>
<rect x="195.40" y="167.59" width="8.30" height="3.21" fill="#0000fa"/>
<rect x="203.70" y="167.59" width="8.30" height="3.21" fill="#0030ff"/>
<rect x="212.00" y="167.59" width="8.30" height="3.21" fill="#000096"/>
<rect x="220.30" y="167.59" width="8.30" height="3.21" fill="#000096"/>
<rect x="228.60" y="167.59" width="8.30" height="3.21" fill="#000096"/>
<rect x="236.90" y="167.59" width="8.30" height="3.21" fill="#000096"/>
<rect x="245.20" y="167.59" width="8.30" height="3.21" fill="#000096"/>
<rect x="253.50" y="167.59" width="8.30" height="3.21" fill="#000096"/>
<rect x="261.80" y="167.59" width="8.30" height="3.21" fill="#000096"/>
<rect x="278.40" y="167.59" width="8.30" height="3.21" fill="#000096"/>
<rect x="286.70" y="167.59" width="8.30" height="3.21" fill="#000096"/>
<rect x="79.20" y="170.80" width="8.30" height="3.21" fill="#000096"/>
<rect x="104.10" y="170.80" width="8.30" height="3.21" fill="#000096"/>
<rect x="129.00" y="170.80" width="8.30" height="3.21" fill="#000096"/>
<rect x="137.30" y="170.80" width="8.30" height="3.21" fill="#000096"/>
<rect x="145.60" y="170.80" width="8.30" height="3.21" fill="#0000fa"/>
<rect x="153.90" y="170.80" width="8.30" height="3.21" fill="#0000fa"/>
<rect x="170.50" y="170.80" width="8.30" height="3.21" fill="#000096"/>
<rect x="178.80" y="170.80" width="8.30" height="3.21" fill="#0000fa"/>
<rect x="195.40" y="170.80" width="8.30" height="3.21" fill="#0000fa"/>
<rect x="212.00" y="170.80" width="8.30" height="3.21" fill="#0000fa"/>
<rect x="220.30" y="170.80" width="8.30" height="3.21" fill="#000096"/>
<rect x="245.20" y="170.80" width="8.30" height="3.21" fill="#000096"/>
<rect x="253.50" y="170.80" width="8.30" height="3.21" fill="#000096"/>
<rect x="261.80" y="170.80" width="8.30" height="3.21" fill="#000096"/>
<rect x="270.10" y="170.80" width="8.30" height="3.21" fill="#000096"/>
<rect x="87.50" y="174.01" width="8.30" height="3.21" fill="#000096"/>
<rect x="104.10" y="174.01" width="8.30" height="3.21" fill="#000096"/>
<rect x="120.70" y="174.01" width="8.30" height="3.21" fill="#000096"/>
<rect x="137.30" y="174.01" width="8.30" height="3.21" fill="#000096"/>
<rect x="145.60" y="174.01" width="8.30" height="3.21" fill="#000096"/>
<rect x="153.90" y="174.01" width="8.30" height="3.21" fill="#000096"/>
<rect x="162.20" y="174.01" width="8.30" height="3.21" fill="#000096"/>
<rect x="170.50" y="174.01" width="8.30" height="3.21" fill="#000096"/>
<rect x="195.40" y="174.01" width="8.30" height="3.21" fill="#000096"/>
<rect x="203.70" y="174.01" width="8.30" height="3.21" fill="#0000fa"/>
<rect x="212.00" y="174.01" width="8.30" height="3.21" fill="#000096"/>
<rect x="220.30" y="174.01" width="8.30" height="3.21" fill="#000096"/>
<rect x="253.50" y="174.01" width="8.30" height="3.21" fill="#000096"/>
<rect x="270.10" y="174.01" width="8.30" height="3.21" fill="#000096"/>
<rect x="295.00" y="174.01" width="8.30" height="3.21" fill="#000096"/>
<rect x="303.30" y="174.01" width="8.30" height="3.21" fill="#000096"/>
<rect x="70.90" y="177.22" width="8.30" height="3.21" fill="#000096"/>
<rect x="104.10" y="177.22" width="8.30" height="3.21" fill="#000096"/>
<rect x="120.70" y="177.22" width="8.30" height="3.21" fill="#000096"/>
<rect x="129.00" y="177.22" width="8.30" height="3.21" fill="#000096"/>
<rect x="162.20" y="177.22" width="8.30" height="3.21" fill="#000096"/>
<rect x="170.50" y="177.22" width="8.30" height="3.21" fill="#000096"/>
<rect x="178.80" y="177.22" width="8.30" height="3.21" fill="#000096"/>
<rect x="187.10" y="177.22" width="8.30" height="3.21" fill="#000096"/>
<rect x="203.70" y="177.22" width="8.30" height="3.21" fill="#000096"/>
<rect x="212.00" y="177.22" width="8.30" height="3.21" fill="#000096"/>
<rect x="220.30" y="177.22" width="8.30" height="3.21" fill="#000096"/>
<rect x="228.60" y="177.22" width="8.30" height="3.21" fill="#000096"/>
<rect x="236.90" y="177.22" width="8.30" height="3.21" fill="#000096"/>
<rect x="278.40" y="177.22" width="8.30" height="3.21" fill="#000096"/>
<rect x="303.30" y="177.22" width="8.30" height="3.21" fill="#000096"/>
<rect x="95.80" y="180.43" width="8.30" height="3.21" fill="#000096"/>
<rect x="112.40" y="180.43" width="8.30" height="3.21" fill="#000096"/>
<rect x="129.00" y="180.43" width="8.30" height="3.21" fill="#000096"/>
<rect x="137.30" y="180.43" width="8.30" height="3.21" fill="#000096"/>
<rect x="145.60" y="180.43" width="8.30" height="3.21" fill="#0030ff"/>
<rect x="153.90" y="180.43" width="8.30" height="3.21" fill="#000096"/>
<rect x="162.20" y="180.43" width="8.30" height="3.21" fill="#000096"/>
<rect x="170.50" y="180.43" width="8.30" height="3.21" fill="#000096"/>
<rect x="178.80" y="180.43" width="8.30" height="3.21" fill="#000096"/>
<rect x="195.40" y="180.43" width="8.30" height="3.21" fill="#000096"/>
<rect x="212.00" y="180.43" width="8.30" height="3.21" fill="#000096"/>
<rect x="236.90" y="180.43" width="8.30" height="3.21" fill="#000096"/>
<rect x="278.40" y="180.43" width="8.30" height="3.21" fill="#000096"/>
<rect x="112.40" y="183.64" width="8.30" height="3.21" fill="#000096"/>
<rect x="137.30" y="183.64" width="8.30" height="3.21" fill="#000096"/>
<rect x="145.60" y="183.64" width="8.30" height="3.21" fill="#000096"/>
<rect x="162.20" y="183.64" width="8.30" height="3.21" fill="#000096"/>
<rect x="170.50" y="183.64" width="8.30" height="3.21" fill="#000096"/>
<rect x="195.40" y="183.64" width="8.30" height="3.21" fill="#000096"/>
<rect x="203.70" y="183.64" width="8.30" height="3.21" fill="#000096"/>
<rect x="212.00" y="183.64" width="8.30" height="3.21" fill="#000096"/>
<rect x="220.30" y="183.64" width="8.30" height="3.21" fill="#000096"/>
<rect x="236.90" y="183.64" width="8.30" height="3.21" fill="#000096"/>
<rect x="253.50" y="183.64" width="8.30" height="3.21" fill="#000096"/>
<rect x="270.10" y="183.64" width="8.30" height="3.21" fill="#000096"/>
<rect x="278.40" y="183.64" width="8.30" height="3.21" fill="#000096"/>
<rect x="95.80" y="186.85" width="8.30" height="3.21" fill="#000096"/>
<rect x="137.30" y="186.85" width="8.30" height="3.21" fill="#000096"/>
<rect x="145.60" y="186.85" width="8.30" height="3.21" fill="#000096"/>
<rect x="162.20" y="186.85" width="8.30" height="3.21" fill="#000096"/>
<rect x="178.80" y="186.85" width="8.30" height="3.21" fill="#000096"/>
<rect x="187.10" y="186.85" width="8.30" height="3.21" fill="#000096"/>
<rect x="195.40" y="186.85" width="8.30" height="3.21" fill="#000096"/>
<rect x="203.70" y="186.85" width="8.30" height="3.21" fill="#000096"/>
<rect x="236.90" y="186.85" width="8.30" height="3.21" fill="#000096"/>
<rect x="253.50" y="186.85" width="8.30" height="3.21" fill="#000096"/>
<rect x="129.00" y="190.06" width="8.30" height="3.21" fill="#000096"/>
<rect x="153.90" y="190.06" width="8.30" height="3.21" fill="#000096"/>
<rect x="162.20" y="190.06" width="8.30" height="3.21" fill="#000096"/>
<rect x="170.50" y="190.06" width="8.30" height="3.21" fill="#000096"/>
<rect x="178.80" y="190.06" width="8.30" height="3.21" fill="#000096"/>
<rect x="187.10" y="190.06" width="8.30" height="3.21" fill="#000096"/>
<rect x="195.40" y="190.06" width="8.30" height="3.21" fill="#000096"/>
<rect x="220.30" y="190.06" width="8.30" height="3.21" fill="#000096"/>
<rect x="236.90" y="190.06" width="8.30" height="3.21" fill="#000096"/>
<rect x="120.70" y="193.27" width="8.30" height="3.21" fill="#000096"/>
<rect x="162.20" y="193.27" width="8.30" height="3.21" fill="#000096"/>
<rect x="170.50" y="193.27" width="8.30" height="3.21" fill="#000096"/>
<rect x="212.00" y="193.27" width="8.30" height="3.21" fill="#000096"/>
<rect x="261.80" y="193.27" width="8.30" height="3.21" fill="#000096"/>
<rect x="120.70" y="196.48" width="8.30" height="3.21" fill="#000096"/>
<rect x="145.60" y="196.48" width="8.30" height="3.21" fill="#000096"/>
<rect x="170.50" y="196.48" width="8.30" height="3.21" fill="#000096"/>
<rect x="203.70" y="196.48" width="8.30" height="3.21" fill="#000096"/>
<rect x="253.50" y="196.48" width="8.30" height="3.21" fill="#000096"/>
<rect x="270.10" y="196.48" width="8.30" height="3.21" fill="#000096"/>
<rect x="286.70" y="196.48" width="8.30" height="3.21" fill="#000096"/>
<rect x="311.60" y="196.48" width="8.30" height="3.21" fill="#000096"/>
<rect x="153.90" y="199.69" width="8.30" height="3.21" fill="#000096"/>
<rect x="162.20" y="199.69" width="8.30" height="3.21" fill="#000096"/>
<rect x="170.50" y="199.69" width="8.30" height="3.21" fill="#000096"/>
<rect x="187.10" y="199.69" width="8.30" height="3.21" fill="#000096"/>
<rect x="203.70" y="199.69" width="8.30" height="3.21" fill="#000096"/>
<rect x="245.20" y="199.69" width="8.30" height="3.21" fill="#000096"/>
<rect x="253.50" y="199.69" width="8.30" height="3.21" fill="#000096"/>
<rect x="295.00" y="199.69" width="8.30" height="3.21" fill="#000096"/>
<rect x="303.30" y="199.69" width="8.30" height="3.21" fill="#000096"/>
<rect x="178.80" y="202.90" width="8.30" height="3.21" fill="#000096"/>
<rect x="203.70" y="202.90" width="8.30" height="3.21" fill="#000096"/>
<rect x="236.90" y="202.90" width="8.30" height="3.21" fill="#000096"/>
<rect x="245.20" y="202.90" width="8.30" height="3.21" fill="#000096"/>
<rect x="270.10" y="202.90" width="8.30" height="3.21" fill="#000096"/>
<rect x="286.70" y="202.90" width="8.30" height="3.21" fill="#000096"/>
<rect x="137.30" y="206.11" width="8.30" height="3.21" fill="#000096"/>
<rect x="203.70" y="206.11" width="8.30" height="3.21" fill="#000096"/>
<rect x="212.00" y="206.11" width="8.30" height="3.21" fill="#000096"/>
<rect x="220.30" y="206.11" width="8.30" height="3.21" fill="#000096"/>
<rect x="286.70" y="206.11" width="8.30" height="3.21" fill="#000096"/>
<rect x="145.60" y="209.32" width="8.30" height="3.21" fill="#000096"/>
<rect x="162.20" y="209.32" width="8.30" height="3.21" fill="#000096"/>
<rect x="178.80" y="209.32" width="8.30" height="3.21" fill="#000096"/>
<rect x="270.10" y="209.32" width="8.30" height="3.21" fill="#000096"/>
<rect x="153.90" y="212.53" width="8.30" height="3.21" fill="#000096"/>
<rect x="162.20" y="212.53" width="8.30" height="3.21" fill="#000096"/>
<rect x="170.50" y="212.53" width="8.30" height="3.21" fill="#000096"/>
<rect x="270.10" y="212.53" width="8.30" height="3.21" fill="#000096"/>
<rect x="286.70" y="212.53" width="8.30" height="3.21" fill="#000096"/>
<rect x="303.30" y="212.53" width="8.30" height="3.21" fill="#000096"/>
<rect x="195.40" y="215.74" width="8.30" height="3.21" fill="#000096"/>
<rect x="212.00" y="215.74" width="8.30" height="3.21" fill="#000096"/>
<rect x="261.80" y="215.74" width="8.30" height="3.21" fill="#000096"/>
<rect x="286.70" y="215.74" width="8.30" height="3.21" fill="#000096"/>
<rect x="303.30" y="215.74" width="8.30" height="3.21" fill="#000096"/>
<rect x="170.50" y="218.95" width="8.30" height="3.21" fill="#000096"/>
<rect x="203.70" y="218.95" width="8.30" height="3.21" fill="#000096"/>
<rect x="212.00" y="218.95" width="8.30" height="3.21" fill="#000096"/>
<rect x="228.60" y="218.95" width="8.30" height="3.21" fill="#000096"/>
<rect x="236.90" y="218.95" width="8.30" height="3.21" fill="#000096"/>
<rect x="178.80" y="222.16" width="8.30" height="3.21" fill="#000096"/>
<rect x="220.30" y="222.16" width="8.30" height="3.21" fill="#000096"/>
<rect x="228.60" y="222.16" width="8.30" height="3.21" fill="#000096"/>
<rect x="270.10" y="222.16" width="8.30" height="3.21" fill="#000096"/>
<rect x="153.90" y="228.58" width="8.30" height="3.21" fill="#000096"/>
<rect x="203.70" y="228.58" width="8.30" height="3.21" fill="#000096"/>
<rect x="220.30" y="228.58" width="8.30" height="3.21" fill="#000096"/>
<rect x="212.00" y="231.79" width="8.30" height="3.21" fill="#000096"/>
<rect x="261.80" y="231.79" width="8.30" height="3.21" fill="#000096"/>
<rect x="195.40" y="235.00" width="8.30" height="3.21" fill="#000096"/>
<rect x="286.70" y="235.00" width="8.30" height="3.21" fill="#000096"/>
<rect x="286.70" y="238.21" width="8.30" height="3.21" fill="#000096"/>
<rect x="278.40" y="241.42" width="8.30" height="3.21" fill="#000096"/>
<rect x="170.50" y="244.63" width="8.30" height="3.21" fill="#000096"/>
<rect x="286.70" y="244.63" width="8.30" height="3.21" fill="#000096"/>
<rect x="228.60" y="254.26" width="8.30" height="3.21" fill="#000096"/>
<rect x="236.90" y="254.26" width="8.30" height="3.21" fill="#000096"/>
</g>
<g clip-path="url(#pc)"><polyline points="49.5,147.5 51.3,140.6 57.8,137.1 69.7,136.5 76.8,135.3 80.0,135.9 93.2,136.6 106.4,134.6 113.0,132.6 119.6,131.9 132.6,131.3 139.2,133.3 143.2,135.2 149.7,133.9 159.0,135.9 165.6,135.2 176.0,133.9 190.0,134.3 204.0,133.5 214.0,132.5 222.0,134.3 216.0,137.5 211.0,138.6 200.0,140.2 190.0,140.7 180.0,140.2" fill="none" stroke="#fff" stroke-width="1.00" stroke-opacity="0.90" stroke-linejoin="round"/><polyline points="49.5,149.5 53.0,152.5 57.8,155.5 63.8,157.5 69.7,158.2 76.8,158.6 86.0,159.2 98.8,161.8 109.3,160.7 120.0,160.2 126.0,159.7" fill="none" stroke="#fff" stroke-width="1.00" stroke-opacity="0.90" stroke-linejoin="round"/><polyline points="51.0,144.0 52.0,141.8 60.0,141.2 72.0,141.5 76.8,140.7 80.0,140.5 93.2,141.2 99.8,139.2 106.4,141.2 113.0,139.2 119.6,137.2 130.0,138.5 139.2,135.9 149.7,136.6 159.0,136.6 159.0,139.9 139.0,139.9 139.2,137.0" fill="none" stroke="#fff" stroke-width="0.90" stroke-opacity="0.70" stroke-linejoin="round"/><polyline points="50.7,149.5 57.8,153.0 63.8,154.3 69.7,155.4 76.8,156.6 86.0,157.5 96.0,157.7 104.0,156.5 112.0,155.0 120.0,155.4 126.0,156.0" fill="none" stroke="#fff" stroke-width="0.90" stroke-opacity="0.70" stroke-linejoin="round"/><polyline points="160.0,148.0 164.8,142.3 173.5,142.3 179.0,145.5 175.0,149.0 173.5,156.6 164.0,156.6 160.0,152.0 160.0,148.0" fill="none" stroke="#fff" stroke-width="0.90" stroke-opacity="0.85" stroke-linejoin="round"/><polyline points="185.0,142.0 190.0,139.6 196.0,142.0 192.0,145.0 185.0,142.0" fill="none" stroke="#fff" stroke-width="0.90" stroke-opacity="0.85" stroke-linejoin="round"/><polyline points="126.0,158.0 130.0,155.0 134.0,158.0 131.0,162.0 126.0,160.0 126.0,158.0" fill="none" stroke="#fff" stroke-width="0.90" stroke-opacity="0.85" stroke-linejoin="round"/><polyline points="143.4,159.0 147.0,156.6 156.0,157.5 154.0,162.0 146.0,162.0 143.4,159.0" fill="none" stroke="#fff" stroke-width="0.90" stroke-opacity="0.85" stroke-linejoin="round"/><polyline points="135.5,153.0 140.0,149.5 150.0,150.0 153.0,153.0 148.0,156.6 139.0,156.6 135.5,153.0" fill="none" stroke="#fff" stroke-width="0.90" stroke-opacity="0.85" stroke-linejoin="round"/><polyline points="204.0,134.5 210.0,131.5 214.0,134.0 210.0,136.5 204.0,134.5" fill="none" stroke="#fff" stroke-width="0.90" stroke-opacity="0.85" stroke-linejoin="round"/><polyline points="201.6,142.0 217.4,142.0 209.5,146.5 217.4,151.2 201.6,151.2 209.5,146.5 201.6,142.0" fill="none" stroke="#fff" stroke-width="0.90" stroke-opacity="0.85" stroke-linejoin="round"/><polyline points="220.6,146.0 225.0,142.8 230.0,146.0 225.0,149.1 220.6,146.0" fill="none" stroke="#fff" stroke-width="0.90" stroke-opacity="0.85" stroke-linejoin="round"/><polyline points="195.3,155.5 213.2,153.3 212.0,157.6 196.0,157.6 195.3,155.5" fill="none" stroke="#fff" stroke-width="0.90" stroke-opacity="0.85" stroke-linejoin="round"/><polyline points="190.0,161.8 200.5,161.8" fill="none" stroke="#fff" stroke-width="0.90" stroke-opacity="0.85" stroke-linejoin="round"/><polyline points="122.0,135.5 126.0,134.6 129.0,136.0 125.0,136.5 122.0,135.5" fill="none" stroke="#fff" stroke-width="0.90" stroke-opacity="0.85" stroke-linejoin="round"/><polyline points="49.2,147.5 60.0,140.0 70.0,133.0 80.0,126.3 90.0,120.2 100.0,114.4 110.0,108.6 115.0,105.9 120.0,103.3 125.0,101.2 130.0,99.5 135.0,98.4 140.0,97.8 145.0,97.6 160.0,97.7 220.0,97.9 328.2,98.2" fill="none" stroke="#ff0000" stroke-width="2.1" stroke-linejoin="round"/><polyline points="46.0,149.9 53.1,149.5 60.1,149.0 67.2,148.5 74.2,148.0 81.3,147.5 88.3,147.0 95.4,146.5 102.4,146.0 109.5,145.5 116.5,145.0 123.6,144.5 130.7,144.0 137.7,143.5 144.8,142.9 151.8,142.4 158.9,141.8 165.9,141.3 173.0,140.7 180.0,140.1 187.1,139.5 194.2,138.9 201.2,138.3 208.3,137.7 215.3,137.1 222.4,136.4 229.4,135.8 236.5,135.1 243.5,134.4 250.6,133.7 257.6,133.0 264.7,132.3 271.8,131.5 278.8,130.8 285.9,130.0 292.9,129.2 300.0,128.3 307.0,127.5 314.1,126.6 321.1,125.8 328.2,124.9" fill="none" stroke="#ffa500" stroke-width="2.0"/><polyline points="46.0,149.9 53.1,149.9 60.1,149.8 67.2,149.8 74.2,149.7 81.3,149.7 88.3,149.6 95.4,149.6 102.4,149.5 109.5,149.4 116.5,149.4 123.6,149.3 130.7,149.3 137.7,149.2 144.8,149.1 151.8,149.1 158.9,149.0 165.9,148.9 173.0,148.9 180.0,148.8 187.1,148.7 194.2,148.7 201.2,148.6 208.3,148.5 215.3,148.4 222.4,148.3 229.4,148.2 236.5,148.2 243.5,148.1 250.6,148.0 257.6,147.9 264.7,147.8 271.8,147.7 278.8,147.6 285.9,147.5 292.9,147.3 300.0,147.2 307.0,147.1 314.1,147.0 321.1,146.8 328.2,146.7" fill="none" stroke="#ffa500" stroke-width="2.0" stroke-dasharray="2.7,3.15" stroke-dashoffset="3.6"/></g>
<rect x="46.5" y="42.6" width="282" height="214.5" fill="none" stroke="#6e6e6e" stroke-width="1.1"/>
<path d="M46.00 257.47v-4.5 M46.00 42.40v4.5 M60.11 257.47v-2.5 M60.11 42.40v2.5 M74.22 257.47v-2.5 M74.22 42.40v2.5 M88.33 257.47v-2.5 M88.33 42.40v2.5 M102.44 257.47v-2.5 M102.44 42.40v2.5 M116.55 257.47v-4.5 M116.55 42.40v4.5 M130.66 257.47v-2.5 M130.66 42.40v2.5 M144.77 257.47v-2.5 M144.77 42.40v2.5 M158.88 257.47v-2.5 M158.88 42.40v2.5 M172.99 257.47v-2.5 M172.99 42.40v2.5 M187.10 257.47v-4.5 M187.10 42.40v4.5 M201.21 257.47v-2.5 M201.21 42.40v2.5 M215.32 257.47v-2.5 M215.32 42.40v2.5 M229.43 257.47v-2.5 M229.43 42.40v2.5 M243.54 257.47v-2.5 M243.54 42.40v2.5 M257.65 257.47v-4.5 M257.65 42.40v4.5 M271.76 257.47v-2.5 M271.76 42.40v2.5 M285.87 257.47v-2.5 M285.87 42.40v2.5 M299.98 257.47v-2.5 M299.98 42.40v2.5 M314.09 257.47v-2.5 M314.09 42.40v2.5 M328.20 257.47v-4.5 M328.20 42.40v4.5 M46.00 252.10h2.5 M328.20 252.10h-2.5 M46.00 246.73h2.5 M328.20 246.73h-2.5 M46.00 241.35h2.5 M328.20 241.35h-2.5 M46.00 235.97h2.5 M328.20 235.97h-2.5 M46.00 230.59h2.5 M328.20 230.59h-2.5 M46.00 225.22h2.5 M328.20 225.22h-2.5 M46.00 219.84h2.5 M328.20 219.84h-2.5 M46.00 214.46h2.5 M328.20 214.46h-2.5 M46.00 209.09h2.5 M328.20 209.09h-2.5 M46.00 203.71h4.5 M328.20 203.71h-4.5 M46.00 198.33h2.5 M328.20 198.33h-2.5 M46.00 192.96h2.5 M328.20 192.96h-2.5 M46.00 187.58h2.5 M328.20 187.58h-2.5 M46.00 182.20h2.5 M328.20 182.20h-2.5 M46.00 176.82h2.5 M328.20 176.82h-2.5 M46.00 171.45h2.5 M328.20 171.45h-2.5 M46.00 166.07h2.5 M328.20 166.07h-2.5 M46.00 160.69h2.5 M328.20 160.69h-2.5 M46.00 155.32h2.5 M328.20 155.32h-2.5 M46.00 149.94h4.5 M328.20 149.94h-4.5 M46.00 144.56h2.5 M328.20 144.56h-2.5 M46.00 139.19h2.5 M328.20 139.19h-2.5 M46.00 133.81h2.5 M328.20 133.81h-2.5 M46.00 128.43h2.5 M328.20 128.43h-2.5 M46.00 123.05h2.5 M328.20 123.05h-2.5 M46.00 117.68h2.5 M328.20 117.68h-2.5 M46.00 112.30h2.5 M328.20 112.30h-2.5 M46.00 106.92h2.5 M328.20 106.92h-2.5 M46.00 101.55h2.5 M328.20 101.55h-2.5 M46.00 96.17h4.5 M328.20 96.17h-4.5 M46.00 90.79h2.5 M328.20 90.79h-2.5 M46.00 85.42h2.5 M328.20 85.42h-2.5 M46.00 80.04h2.5 M328.20 80.04h-2.5 M46.00 74.66h2.5 M328.20 74.66h-2.5 M46.00 69.28h2.5 M328.20 69.28h-2.5 M46.00 63.91h2.5 M328.20 63.91h-2.5 M46.00 58.53h2.5 M328.20 58.53h-2.5 M46.00 53.15h2.5 M328.20 53.15h-2.5 M46.00 47.78h2.5 M328.20 47.78h-2.5" stroke="#222" stroke-width="0.8" fill="none"/>
<text x="46.0" y="276.4" font-size="15.3" text-anchor="middle" fill="#000">0.0</text>
<text x="116.5" y="276.4" font-size="15.3" text-anchor="middle" fill="#000">0.5</text>
<text x="187.1" y="276.4" font-size="15.3" text-anchor="middle" fill="#000">1.0</text>
<text x="257.6" y="276.4" font-size="15.3" text-anchor="middle" fill="#000">1.5</text>
<text x="328.2" y="276.4" font-size="15.3" text-anchor="middle" fill="#000">2.0</text>
<text x="42.4" y="51.2" font-size="15" text-anchor="end" fill="#000">2</text>
<text x="42.4" y="101.1" font-size="15" text-anchor="end" fill="#000">1</text>
<text x="42.4" y="154.7" font-size="15" text-anchor="end" fill="#000">0</text>
<text x="42.4" y="208.3" font-size="15" text-anchor="end" fill="#000">−1</text>
<text x="42.4" y="256.6" font-size="15" text-anchor="end" fill="#000">−2</text>
<text x="119.5" y="291.3" font-size="15.2" fill="#000">Wavenumber kv<tspan font-size="8" dy="1.5">A</tspan><tspan dy="-1.5">/Ω</tspan><tspan font-size="8" dy="2">p</tspan></text>
<text transform="translate(12.7,210.2) rotate(-90)" font-size="15.2" fill="#000">Frequency <tspan font-size="13">ω</tspan><tspan font-size="9.5" dy="2.2">pla</tspan><tspan dy="-2.2">/Ω</tspan><tspan font-size="8" dy="2">p</tspan></text>
<text x="328.4" y="101.6" font-size="12.3" fill="#ff0000">IBW 89°</text><text x="328.8" y="128.8" font-size="12" fill="#ffa500">KAW 80°</text><text x="328.8" y="149.0" font-size="12" fill="#ffa500">KAW 89°</text>
</svg></body></html>
